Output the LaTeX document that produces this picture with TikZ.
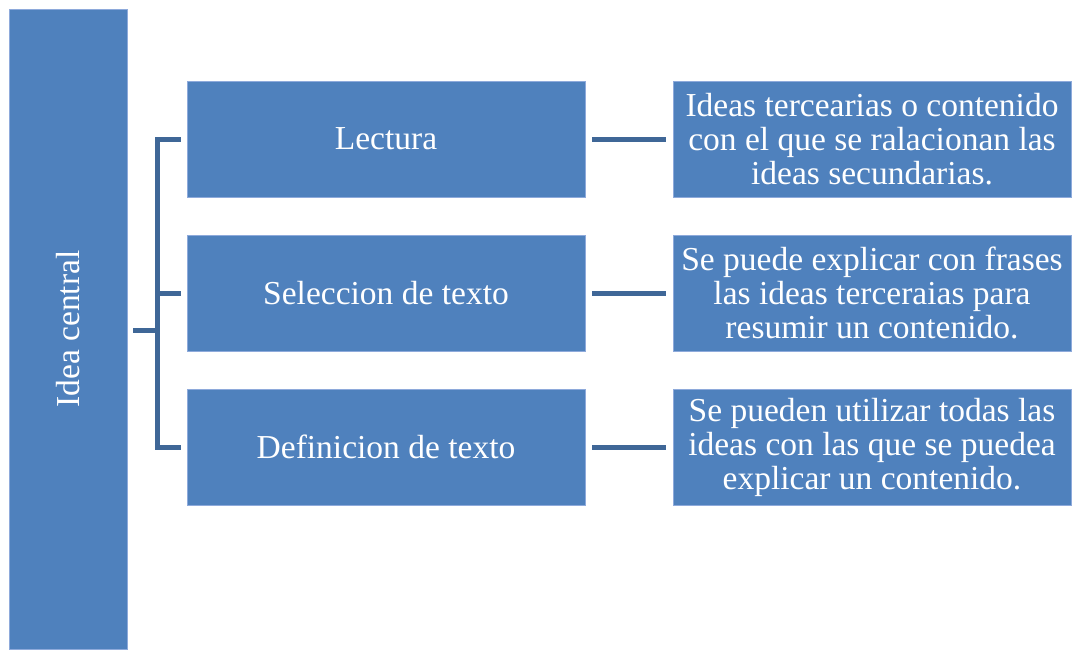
\documentclass[tikz,border=0pt]{standalone}
\usepackage{fontspec}
\setmainfont{Liberation Serif}
\usepackage{tikz}
\usetikzlibrary{positioning,calc}
\definecolor{boxblue}{HTML}{4F81BD}
\definecolor{boxedge}{HTML}{8EAADB}
\definecolor{linkblue}{HTML}{3F6797}
\tikzset{blk/.style={
    draw=boxedge,
    line width=0.8pt,
    fill=boxblue,
    rectangle,
    inner sep=0pt,
    minimum width=398pt,
    minimum height=116pt,
    text=white,
    align=center,
    font=\fontsize{33.5}{34}\selectfont,
  }}
\tikzset{link/.style={
    draw=linkblue,
    line width=5pt,
  }}

\begin{document}
\begin{tikzpicture}[x=1pt,y=-1pt]
        \useasboundingbox (0,0) rectangle (1074,649);

        \node (central) [blk,minimum width=118pt,minimum height=640pt] at (68.5,329) {};
        \node[rotate=90,text=white,font=\fontsize{33.5}{34}\selectfont] at (central.center) {Idea central};

        % middle column
        \node (lect) [blk] at (386,139) {Lectura};
        \node (selec) [blk] at (386,293) {Seleccion de texto};
        \node (defi) [blk] at (386,447) {Definicion de texto};

        % right column
        \node (lectd) [blk] at (872,139) {Ideas tercearias o contenido\\con el que se ralacionan las\\ideas secundarias.};
        \node (selecd) [blk] at (872,293) {Se puede explicar con frases\\las ideas terceraias para\\resumir un contenido.};
        \node (defid) [blk] at (872,447) {Se pueden utilizar todas las\\ideas con las que se puedea\\explicar un contenido.};

        % bracket
        \coordinate (fork) at (157,330);
        \draw [link] ([xshift=5.5pt]central.east |- fork) -- (fork);
        \draw [link,line cap=rect] (fork |- lect.west) -- (fork |- defi.west);
        \draw [link] (fork |- lect.west) -- ([xshift=-6pt]lect.west);
        \draw [link] (fork |- selec.west) -- ([xshift=-6pt]selec.west);
        \draw [link] (fork |- defi.west) -- ([xshift=-6pt]defi.west);

        \draw [link,shorten <=7pt,shorten >=7pt] (lect) -- (lectd);
        \draw [link,shorten <=7pt,shorten >=7pt] (selec) -- (selecd);
        \draw [link,shorten <=7pt,shorten >=7pt] (defi) -- (defid);
      \end{tikzpicture}
\end{document}
